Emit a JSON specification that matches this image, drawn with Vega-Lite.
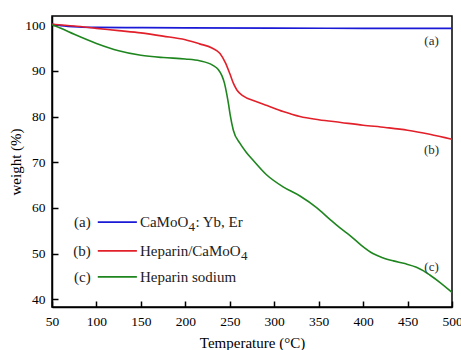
{
  "$schema": "https://vega.github.io/schema/vega-lite/v6.json",
  "autosize": {"type": "none"},
  "width": 400,
  "height": 291,
  "padding": {"left": 52, "top": 16, "right": 9, "bottom": 43},
  "background": "white",
  "config": {
    "view": {"stroke": "black", "strokeWidth": 1.5},
    "font": "Liberation Serif",
    "axis": {"labelFont": "Liberation Serif", "titleFont": "Liberation Serif", "labelColor": "black", "titleColor": "black", "domainColor": "black", "tickColor": "black", "titleFontWeight": "normal", "grid": false}
  },
  "datasets": {
    "curves": [
      {"s": "a", "T": 50, "w": 100.2}, {"s": "a", "T": 60, "w": 99.9}, {"s": "a", "T": 80, "w": 99.6}, {"s": "a", "T": 100, "w": 99.5}, {"s": "a", "T": 150, "w": 99.45}, {"s": "a", "T": 200, "w": 99.4}, {"s": "a", "T": 300, "w": 99.35}, {"s": "a", "T": 400, "w": 99.3}, {"s": "a", "T": 500, "w": 99.3},
      {"s": "b", "T": 50, "w": 100.2}, {"s": "b", "T": 75, "w": 99.8}, {"s": "b", "T": 100, "w": 99.3}, {"s": "b", "T": 125, "w": 98.8}, {"s": "b", "T": 150, "w": 98.3}, {"s": "b", "T": 175, "w": 97.6}, {"s": "b", "T": 200, "w": 96.8}, {"s": "b", "T": 216, "w": 95.9}, {"s": "b", "T": 230, "w": 95.0}, {"s": "b", "T": 239, "w": 93.8}, {"s": "b", "T": 245, "w": 91.8}, {"s": "b", "T": 250, "w": 89.4}, {"s": "b", "T": 254, "w": 87.3}, {"s": "b", "T": 258, "w": 85.8}, {"s": "b", "T": 265, "w": 84.5}, {"s": "b", "T": 278, "w": 83.4}, {"s": "b", "T": 292, "w": 82.4}, {"s": "b", "T": 310, "w": 81.1}, {"s": "b", "T": 329, "w": 80.0}, {"s": "b", "T": 350, "w": 79.3}, {"s": "b", "T": 375, "w": 78.7}, {"s": "b", "T": 400, "w": 78.1}, {"s": "b", "T": 425, "w": 77.6}, {"s": "b", "T": 450, "w": 77.0}, {"s": "b", "T": 475, "w": 76.1}, {"s": "b", "T": 500, "w": 75.0},
      {"s": "c", "T": 50, "w": 100.1}, {"s": "c", "T": 60, "w": 99.3}, {"s": "c", "T": 75, "w": 98.0}, {"s": "c", "T": 100, "w": 96.0}, {"s": "c", "T": 125, "w": 94.4}, {"s": "c", "T": 150, "w": 93.4}, {"s": "c", "T": 175, "w": 92.9}, {"s": "c", "T": 200, "w": 92.6}, {"s": "c", "T": 216, "w": 92.2}, {"s": "c", "T": 231, "w": 91.2}, {"s": "c", "T": 237, "w": 90.3}, {"s": "c", "T": 241, "w": 89.0}, {"s": "c", "T": 244, "w": 87.3}, {"s": "c", "T": 246.5, "w": 85.0}, {"s": "c", "T": 248.5, "w": 82.8}, {"s": "c", "T": 250.5, "w": 80.3}, {"s": "c", "T": 254, "w": 77.0}, {"s": "c", "T": 261.5, "w": 74.1}, {"s": "c", "T": 268, "w": 72.3}, {"s": "c", "T": 275, "w": 70.7}, {"s": "c", "T": 291, "w": 67.3}, {"s": "c", "T": 310, "w": 64.6}, {"s": "c", "T": 329, "w": 62.6}, {"s": "c", "T": 348, "w": 60.0}, {"s": "c", "T": 362, "w": 57.6}, {"s": "c", "T": 374, "w": 55.6}, {"s": "c", "T": 385, "w": 54.0}, {"s": "c", "T": 398, "w": 51.8}, {"s": "c", "T": 411, "w": 50.0}, {"s": "c", "T": 422, "w": 49.1}, {"s": "c", "T": 434, "w": 48.4}, {"s": "c", "T": 447, "w": 47.8}, {"s": "c", "T": 460, "w": 47.0}, {"s": "c", "T": 468, "w": 46.2}, {"s": "c", "T": 475, "w": 45.3}, {"s": "c", "T": 487, "w": 43.6}, {"s": "c", "T": 500, "w": 41.5}
    ],
    "tags": [
      {"s": "a", "T": 477, "w": 96.6, "t": "(a)"},
      {"s": "b", "T": 477, "w": 72.6, "t": "(b)"},
      {"s": "c", "T": 477, "w": 47.1, "t": "(c)"}
    ],
    "legend": [
      {"s": "a", "x1": 101.5, "x2": 145.5, "w": 56.9, "tag": "(a)", "label": "CaMoO", "sub": "4", "after": ": Yb, Er"},
      {"s": "b", "x1": 101.5, "x2": 145.5, "w": 50.6, "tag": "(b)", "label": "Heparin/CaMoO", "sub": "4", "after": ""},
      {"s": "c", "x1": 101.5, "x2": 145.5, "w": 44.9, "tag": "(c)", "label": "Heparin sodium", "sub": "", "after": ""}
    ]
  },
  "encoding": {
    "color": {"field": "s", "type": "nominal", "scale": {"domain": ["a", "b", "c"], "range": ["#1a1ad6", "#e2202a", "#1f861f"]}, "legend": null}
  },
  "layer": [
    {
      "data": {"name": "curves"},
      "mark": {"type": "line", "strokeWidth": 1.6, "interpolate": "monotone", "clip": true},
      "encoding": {
        "x": {"field": "T", "type": "quantitative", "scale": {"domain": [50, 500], "nice": false, "zero": false},
          "axis": {"title": "Temperature (°C)", "titleFontSize": 15, "titlePadding": 8, "labelFontSize": 13.5, "values": [50, 75, 100, 125, 150, 175, 200, 225, 250, 275, 300, 325, 350, 375, 400, 425, 450, 475, 500],
            "labelExpr": "datum.value % 50 === 0 ? datum.label : ''", "tickSize": {"condition": {"test": "datum.value % 50 === 0", "value": -6}, "value": -3}, "labelPadding": 13, "domainWidth": 1.5, "tickWidth": 1.5, "labelFlush": false}},
        "y": {"field": "w", "type": "quantitative", "scale": {"domain": [38.3, 102], "nice": false, "zero": false},
          "axis": {"title": "weight (%)", "titleFontSize": 15, "titlePadding": 1, "labelFontSize": 13.5, "values": [40, 45, 50, 55, 60, 65, 70, 75, 80, 85, 90, 95, 100],
            "labelExpr": "datum.value % 10 === 0 ? datum.label : ''", "tickSize": {"condition": {"test": "datum.value % 10 === 0", "value": -6}, "value": -3}, "labelPadding": 13, "domainWidth": 1.5, "tickWidth": 1.5}}
      }
    },
    {
      "data": {"name": "tags"},
      "mark": {"type": "text", "fontSize": 13, "font": "Liberation Serif"},
      "encoding": {
        "x": {"field": "T", "type": "quantitative"},
        "y": {"field": "w", "type": "quantitative"},
        "text": {"field": "t"},
        "color": {"value": "#2a2a2a"}
      }
    },
    {
      "data": {"name": "legend"},
      "mark": {"type": "rule", "strokeWidth": 1.8},
      "encoding": {
        "x": {"field": "x1", "type": "quantitative"},
        "x2": {"field": "x2"},
        "y": {"field": "w", "type": "quantitative"}
      }
    },
    {
      "data": {"name": "legend"},
      "mark": {"type": "text", "fontSize": 15, "align": "right", "dx": -7, "font": "Liberation Serif"},
      "encoding": {
        "x": {"field": "x1", "type": "quantitative"},
        "y": {"field": "w", "type": "quantitative"},
        "text": {"field": "tag"},
        "color": {"value": "#222222"}
      }
    },
    {
      "data": {"name": "legend"},
      "mark": {"type": "text", "fontSize": 15, "align": "left", "dx": 3, "font": "Liberation Serif"},
      "encoding": {
        "x": {"field": "x2", "type": "quantitative"},
        "y": {"field": "w", "type": "quantitative"},
        "text": {"field": "label"},
        "color": {"value": "#222222"}
      }
    },
    {
      "data": {"name": "legend"},
      "transform": [{"filter": "datum.s === 'a'"}],
      "mark": {"type": "text", "fontSize": 13, "align": "left", "dx": 51.5, "dy": 5, "font": "Liberation Serif"},
      "encoding": {
        "x": {"field": "x2", "type": "quantitative"},
        "y": {"field": "w", "type": "quantitative"},
        "text": {"field": "sub"},
        "color": {"value": "#222222"}
      }
    },
    {
      "data": {"name": "legend"},
      "transform": [{"filter": "datum.s === 'a'"}],
      "mark": {"type": "text", "fontSize": 15, "align": "left", "dx": 58.5, "font": "Liberation Serif"},
      "encoding": {
        "x": {"field": "x2", "type": "quantitative"},
        "y": {"field": "w", "type": "quantitative"},
        "text": {"field": "after"},
        "color": {"value": "#222222"}
      }
    },
    {
      "data": {"name": "legend"},
      "transform": [{"filter": "datum.s === 'b'"}],
      "mark": {"type": "text", "fontSize": 13, "align": "left", "dx": 104, "dy": 5, "font": "Liberation Serif"},
      "encoding": {
        "x": {"field": "x2", "type": "quantitative"},
        "y": {"field": "w", "type": "quantitative"},
        "text": {"field": "sub"},
        "color": {"value": "#222222"}
      }
    }
  ]
}
